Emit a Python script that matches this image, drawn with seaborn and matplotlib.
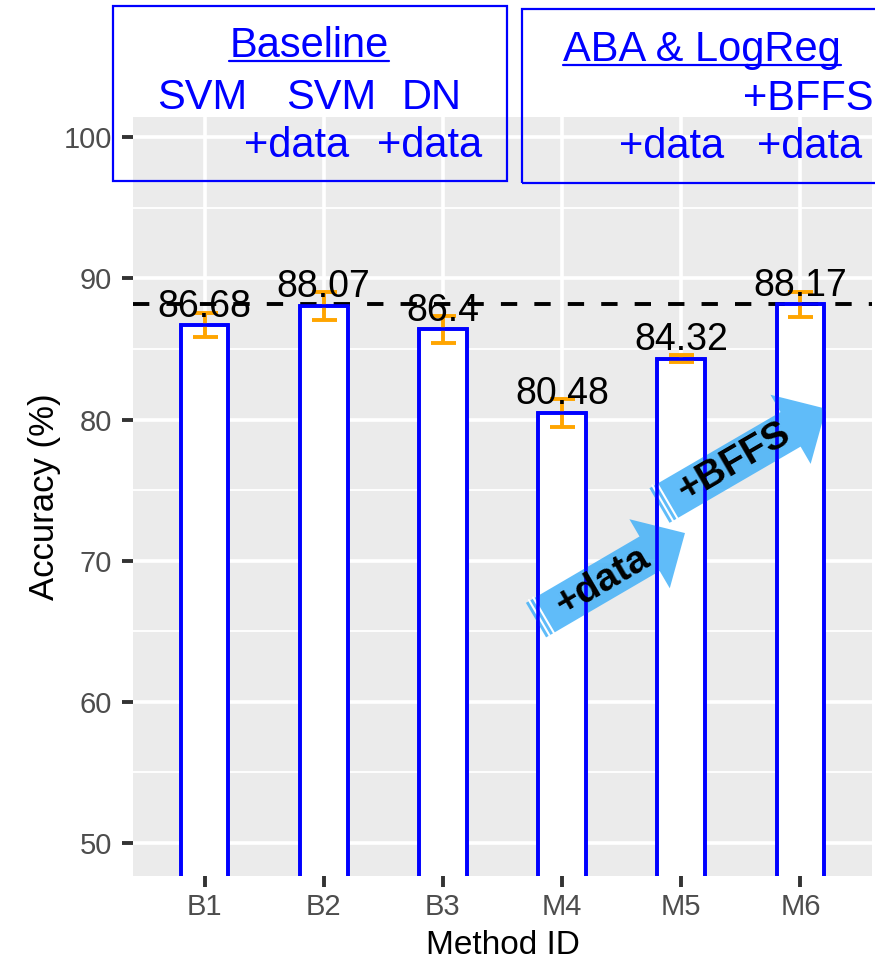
import numpy as np
import pandas as pd
import matplotlib
matplotlib.use("Agg")
import matplotlib.pyplot as plt
import seaborn as sns
from matplotlib.patches import Polygon, Rectangle
from matplotlib.lines import Line2D
from matplotlib.transforms import IdentityTransform

# ---------------- data ----------------
methods = ["B1", "B2", "B3", "M4", "M5", "M6"]
accuracy = [86.68, 88.07, 86.4, 80.48, 84.32, 88.17]
errors = [0.85, 1.0, 0.95, 1.0, 0.25, 0.9]
value_labels = ["86.68", "88.07", "86.4", "80.48", "84.32", "88.17"]
reference_level = 88.17
y_ticks = [50, 60, 70, 80, 90, 100]
y_minor = [55, 65, 75, 85, 95]

# annotation arrows (data coordinates: category index, accuracy)
arrow_labels = ["+data", "+BFFS"]
arrow_tails = [(2.781, 65.79), (3.817, 73.91)]
arrow_tips = [(4.031, 71.96), (5.214, 80.77)]

# header boxes
box1_title = "Baseline"
box1_row2 = ["SVM", "SVM", "DN"]
box1_row3 = ["+data", "+data"]
box2_title = "ABA & LogReg"
box2_row2 = ["+BFFS"]
box2_row3 = ["+data", "+data"]

# ---------------- style ----------------
sns.set_theme(style="darkgrid")
plt.rcParams["font.family"] = ["Liberation Sans", "DejaVu Sans"]

W, H = 875, 963
fig = plt.figure(figsize=(W / 100, H / 100), dpi=100)
fig.patch.set_facecolor("white")


def fx(x):
    return x / W


def fy(y):
    return 1 - y / H


ax = fig.add_axes([fx(133), fy(876), (872 - 133) / W, (876 - 117) / H])
ax.set_facecolor("#EBEBEB")

df = pd.DataFrame({"method": methods, "accuracy": accuracy})
sns.barplot(data=df, x="method", y="accuracy", order=methods, color="white",
            saturation=1, edgecolor="#0000FF", linewidth=2.6, width=0.4,
            ax=ax, zorder=2)

ax.set_xlim(-0.6, 5.6)
ax.set_ylim(47.66, 101.44)
ax.set_yticks(y_ticks)
ax.set_yticks(y_minor, minor=True)

ax.grid(which="major", color="white", linewidth=2.6)
ax.grid(which="minor", axis="y", color="white", linewidth=1.3)
ax.grid(which="minor", axis="x", visible=False)
ax.set_axisbelow(True)
for s in ax.spines.values():
    s.set_visible(False)

ax.tick_params(axis="both", which="major", bottom=True, left=True, length=8,
               width=2.8, color="#333333", labelsize=21, labelcolor="#4D4D4D")
ax.tick_params(axis="y", which="major", pad=7)
ax.tick_params(axis="x", which="major", pad=4)
ax.tick_params(axis="both", which="minor", bottom=False, left=False, length=0)

# error bars
ax.errorbar(range(len(methods)), accuracy, yerr=errors, fmt="none",
            ecolor="#FFA500", elinewidth=2.8, capsize=9, capthick=2.8, zorder=4)

# reference dashed line
ax.axhline(reference_level, color="black", linewidth=2.8,
           linestyle=(0, (4.2, 4.4)), zorder=3)

# value labels
for i, (v, lab) in enumerate(zip(accuracy, value_labels)):
    ax.annotate(lab, (i, v), xytext=(0, 6), textcoords="offset points",
                ha="center", va="baseline", fontsize=27, color="black", zorder=6)

ax.set_xlabel("Method ID", fontsize=24, color="black")
ax.set_ylabel("Accuracy (%)", fontsize=25, color="black")
ax.xaxis.set_label_coords(0.5, -0.071)
ax.yaxis.set_label_coords(-0.098, 0.5)

# ---------------- arrows ----------------
arrow_color = "#3DAEF8"
for lab, tail, tip in zip(arrow_labels, arrow_tails, arrow_tips):
    t = ax.transData.transform(tail)
    p = ax.transData.transform(tip)
    d = p - t
    L = np.hypot(*d)
    u = d / L
    n = np.array([-u[1], u[0]])
    shaft_hw, head_hw, head_len = 20, 40, 41
    base = p - u * head_len
    pts = [t + n * shaft_hw, base + n * shaft_hw, base + n * head_hw, p,
           base - n * head_hw, base - n * shaft_hw, t - n * shaft_hw]
    ax.add_patch(Polygon(pts, closed=True, transform=IdentityTransform(),
                         facecolor=arrow_color, edgecolor="none", alpha=0.82,
                         zorder=5, clip_on=False))
    for off in (4, 9):
        a = t + u * off + n * (shaft_hw + 1)
        b = t + u * off - n * (shaft_hw + 1)
        ax.add_line(Line2D([a[0], b[0]], [a[1], b[1]], transform=IdentityTransform(),
                           color="white", linewidth=1.5, zorder=5.5, clip_on=False))
    c = t + u * (0.45 * L)
    ang = np.degrees(np.arctan2(u[1], u[0]))
    ax.text(c[0], c[1], lab, transform=IdentityTransform(), rotation=ang,
            rotation_mode="anchor", ha="center", va="center", fontsize=28,
            fontweight="bold", color="black", zorder=8)

# bar outlines redrawn above the translucent arrows
for bar in list(ax.patches):
    if isinstance(bar, Rectangle):
        ax.add_patch(Rectangle(bar.get_xy(), bar.get_width(), bar.get_height(),
                               fill=False, edgecolor="#0000FF", linewidth=2.6,
                               zorder=6))

# ---------------- header boxes ----------------
blue = "#0000FF"
fig.add_artist(Rectangle((fx(113), fy(181)), (507 - 113) / W, (181 - 6) / H,
                         transform=fig.transFigure, fill=False, edgecolor=blue,
                         linewidth=1.6, zorder=10))
fig.add_artist(Rectangle((fx(522), fy(183)), (900 - 522) / W, (183 - 9) / H,
                         transform=fig.transFigure, fill=False, edgecolor=blue,
                         linewidth=1.6, zorder=10))

tkw = dict(ha="center", va="baseline", fontsize=30, color=blue, zorder=11)
t1 = fig.text(fx(309), fy(57), box1_title, **tkw)
for x, s in zip([202, 331, 432], box1_row2):
    fig.text(fx(x), fy(109), s, **tkw)
for x, s in zip([297, 430], box1_row3):
    fig.text(fx(x), fy(157), s, **tkw)
t2 = fig.text(fx(702), fy(61), box2_title, **tkw)
for x, s in zip([808], box2_row2):
    fig.text(fx(x), fy(110), s, **tkw)
for x, s in zip([672, 810], box2_row3):
    fig.text(fx(x), fy(158), s, **tkw)

fig.canvas.draw()
for t, base_y in ((t1, 57), (t2, 61)):
    bb = t.get_window_extent()
    yy = fy(base_y + 4.5)
    fig.add_artist(Line2D([bb.x0 / W, bb.x1 / W], [yy, yy], transform=fig.transFigure,
                          color=blue, linewidth=1.6, zorder=11))

fig.savefig("out.png", dpi=100)
